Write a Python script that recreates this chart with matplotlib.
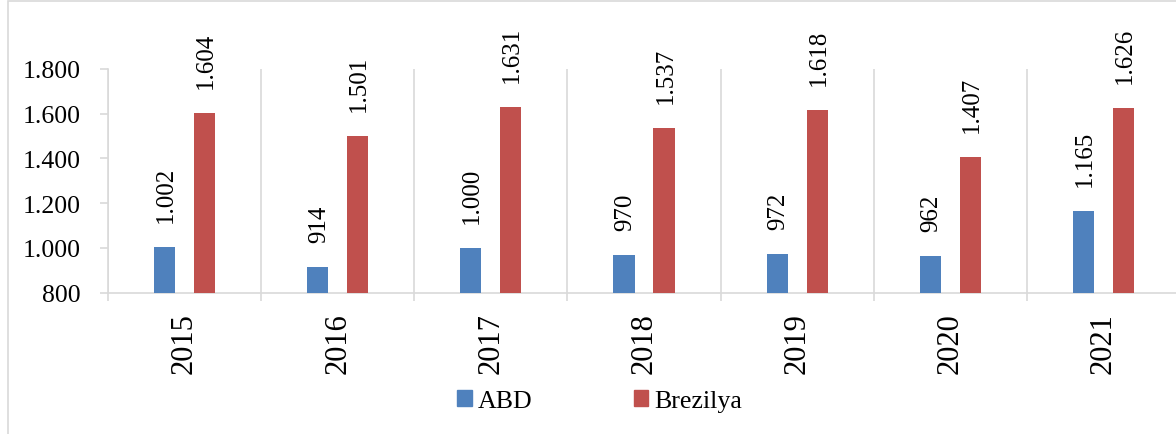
import matplotlib
matplotlib.use("Agg")
import matplotlib.pyplot as plt
from matplotlib.patches import Rectangle, Patch
from matplotlib.ticker import FuncFormatter
import numpy as np

plt.rcParams['font.family'] = ['Liberation Serif', 'DejaVu Serif']

years = ["2015", "2016", "2017", "2018", "2019", "2020", "2021"]
abd = [1002, 914, 1000, 970, 972, 962, 1165]
brezilya = [1604, 1501, 1631, 1537, 1618, 1407, 1626]
series_names = ["ABD", "Brezilya"]
colors = ["#4F81BD", "#C0504D"]
grid_color = "#D9D9D9"

def fmt(v):
    return f"{int(v):,}".replace(",", ".")

W, H = 1176, 435
fig = plt.figure(figsize=(W / 100, H / 100), dpi=100)
ax = fig.add_axes([108 / W, 1 - 293.5 / H, (1180 - 108) / W, (293.5 - 70) / H])

x = np.arange(len(years))
bw = 0.138
off = 0.131
b1 = ax.bar(x - off, abd, bw, color=colors[0], bottom=0, zorder=3)
b2 = ax.bar(x + off, brezilya, bw, color=colors[1], zorder=3)

for bars, vals in ((b1, abd), (b2, brezilya)):
    for rect, v in zip(bars, vals):
        ax.annotate(fmt(v), (rect.get_x() + rect.get_width() / 2, v),
                    xytext=(1, 18), textcoords="offset points",
                    rotation=90, ha="center", va="bottom",
                    fontsize=18, annotation_clip=False, clip_on=False)

ax.set_xlim(-0.5, len(years) - 0.5)
ax.set_ylim(800, 1800)
ax.set_yticks(range(800, 1801, 200))
ax.yaxis.set_major_formatter(FuncFormatter(lambda v, p: fmt(v)))

ax.set_xticks(x)
ax.set_xticklabels(years, rotation=90, fontsize=22)
ax.set_xticks(np.arange(-0.5, len(years), 1), minor=True)
ax.tick_params(axis="x", which="major", length=0, pad=14)
ax.tick_params(axis="x", which="minor", length=6, width=1.2, color=grid_color, direction="out")
ax.tick_params(axis="y", which="major", length=6, width=1.2, color=grid_color,
               labelsize=18.5, pad=14)
ax.grid(axis="x", which="minor", color=grid_color, linewidth=1.2, zorder=0)
ax.set_axisbelow(True)

for s in ("top", "right"):
    ax.spines[s].set_visible(False)
for s in ("left", "bottom"):
    ax.spines[s].set_color(grid_color)
    ax.spines[s].set_linewidth(1.2)

handles = [Patch(facecolor=c, edgecolor=c) for c in colors]
fig.legend(handles, series_names, loc="center", bbox_to_anchor=(600 / W, 1 - 402 / H),
           ncol=2, frameon=False, fontsize=18.7, handlelength=0.55, handleheight=0.55,
           handletextpad=0.25, columnspacing=3.9)

fig.patches.append(Rectangle((8 / W, -0.1), 1.2, 1.1 - 1.5 / H, transform=fig.transFigure,
                             fill=False, edgecolor=grid_color, linewidth=1.2))

fig.savefig("out.png", dpi=100)
